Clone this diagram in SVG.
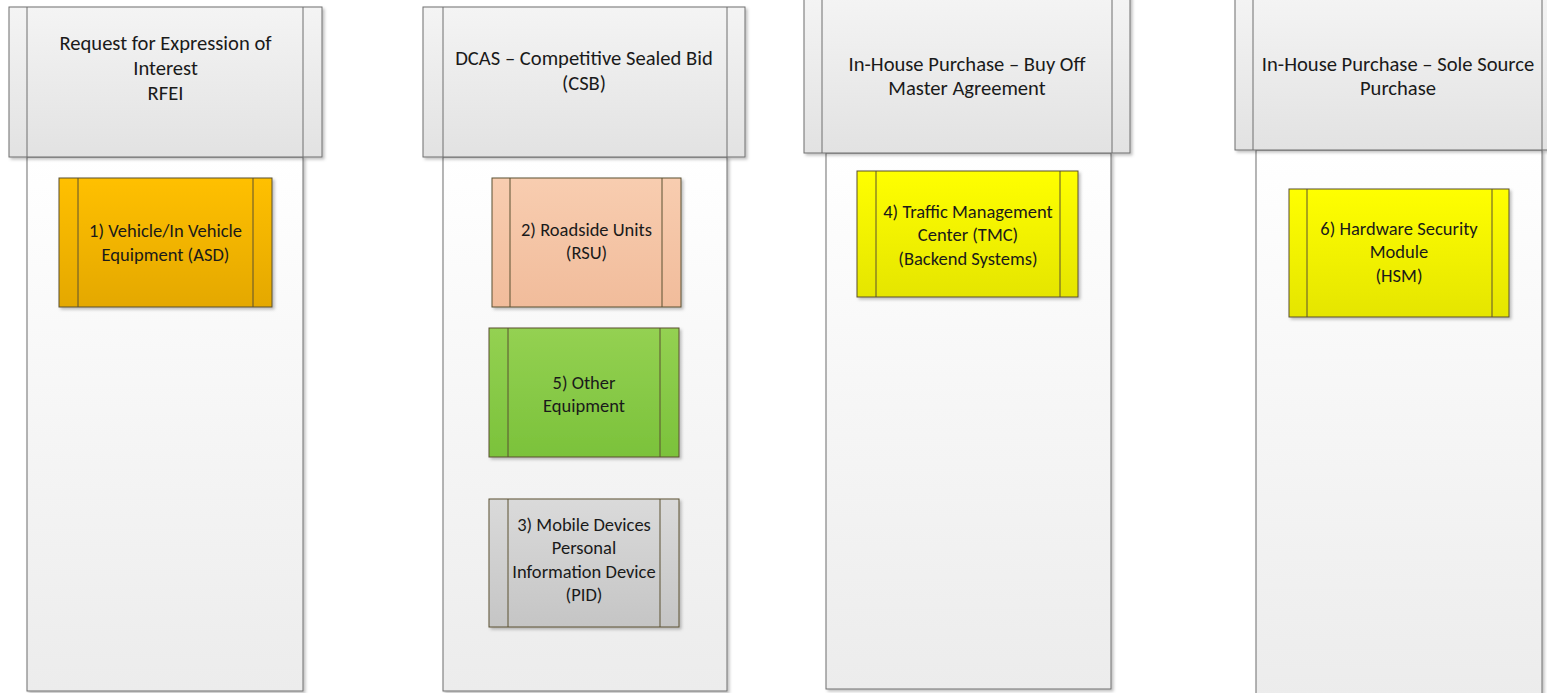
<svg xmlns="http://www.w3.org/2000/svg" width="1547" height="693" viewBox="0 0 1547 693">
  <defs>
    <linearGradient id="gHead" x1="0" y1="0" x2="0" y2="1">
      <stop offset="0" stop-color="#f4f4f4"/>
      <stop offset="1" stop-color="#e2e2e2"/>
    </linearGradient>
    <linearGradient id="gBody" x1="0" y1="0" x2="0" y2="1">
      <stop offset="0" stop-color="#ffffff"/>
      <stop offset="1" stop-color="#ececec"/>
    </linearGradient>
    <linearGradient id="gOrange" x1="0" y1="0" x2="0" y2="1">
      <stop offset="0" stop-color="#ffc000"/>
      <stop offset="1" stop-color="#e4a800"/>
    </linearGradient>
    <linearGradient id="gPeach" x1="0" y1="0" x2="0" y2="1">
      <stop offset="0" stop-color="#f8cdb0"/>
      <stop offset="1" stop-color="#f1bc9b"/>
    </linearGradient>
    <linearGradient id="gGreen" x1="0" y1="0" x2="0" y2="1">
      <stop offset="0" stop-color="#94d152"/>
      <stop offset="1" stop-color="#7bc23b"/>
    </linearGradient>
    <linearGradient id="gGray" x1="0" y1="0" x2="0" y2="1">
      <stop offset="0" stop-color="#dadada"/>
      <stop offset="1" stop-color="#c5c5c5"/>
    </linearGradient>
    <linearGradient id="gYellow" x1="0" y1="0" x2="0" y2="1">
      <stop offset="0" stop-color="#ffff00"/>
      <stop offset="1" stop-color="#e5e500"/>
    </linearGradient>
    <filter id="shadow" x="-5%" y="-5%" width="115%" height="115%">
      <feDropShadow dx="2" dy="2" stdDeviation="1.5" flood-color="#000" flood-opacity="0.25"/>
    </filter>
  </defs>
  <style>
    .head { fill: url(#gHead); stroke: #6f6f6f; stroke-width: 1; filter: url(#shadow); }
    .body { fill: url(#gBody); stroke: #6f6f6f; stroke-width: 1; filter: url(#shadow); }
    .bar  { stroke: #6f6f6f; stroke-width: 1; }
    .node { stroke: #5a5030; stroke-width: 1; filter: url(#shadow); }
    .nbar { stroke: #5a5030; stroke-width: 1; }
    .ht { font-family: Carlito, "Liberation Sans Narrow", "Liberation Sans", sans-serif; font-size: 20.6px; fill: #1a1a1a; text-anchor: middle; }
    .nt { font-family: Carlito, "Liberation Sans Narrow", "Liberation Sans", sans-serif; font-size: 18.5px; fill: #1a1a1a; text-anchor: middle; }
  </style>

  <rect width="1547" height="693" fill="#ffffff"/>

  <!-- Swimlane 1: RFEI -->
  <g id="lane-rfei">
    <rect class="body" x="27" y="157" width="276" height="534"/>
    <rect class="head" x="9" y="7" width="313" height="150"/>
    <line class="bar" x1="27" y1="7" x2="27" y2="157"/>
    <line class="bar" x1="303" y1="7" x2="303" y2="157"/>
    <text class="ht" x="165.5" y="50">Request for Expression of</text>
    <text class="ht" x="165.5" y="75">Interest</text>
    <text class="ht" x="165.5" y="100">RFEI</text>
  </g>

  <!-- Swimlane 2: DCAS CSB -->
  <g id="lane-csb">
    <rect class="body" x="443" y="157" width="284" height="534"/>
    <rect class="head" x="423" y="7" width="322" height="150"/>
    <line class="bar" x1="443" y1="7" x2="443" y2="157"/>
    <line class="bar" x1="727" y1="7" x2="727" y2="157"/>
    <text class="ht" x="584" y="65">DCAS – Competitive Sealed Bid</text>
    <text class="ht" x="584" y="90">(CSB)</text>
  </g>

  <!-- Swimlane 3: Buy Off Master Agreement -->
  <g id="lane-buyoff">
    <rect class="body" x="826" y="153" width="285" height="536"/>
    <rect class="head" x="804" y="-4" width="326" height="157"/>
    <line class="bar" x1="822" y1="-4" x2="822" y2="153"/>
    <line class="bar" x1="1112" y1="-4" x2="1112" y2="153"/>
    <text class="ht" x="967" y="71">In-House Purchase – Buy Off</text>
    <text class="ht" x="967" y="95">Master Agreement</text>
  </g>

  <!-- Swimlane 4: Sole Source Purchase -->
  <g id="lane-solesource">
    <rect class="body" x="1256" y="150" width="286" height="550"/>
    <rect class="head" x="1235" y="-4" width="326" height="154"/>
    <line class="bar" x1="1253" y1="-4" x2="1253" y2="150"/>
    <line class="bar" x1="1542" y1="-4" x2="1542" y2="150"/>
    <text class="ht" x="1398" y="71">In-House Purchase – Sole Source</text>
    <text class="ht" x="1398" y="95">Purchase</text>
  </g>

  <!-- Equipment nodes -->
  <g id="node-asd">
    <rect class="node" x="59" y="178" width="213" height="129" fill="url(#gOrange)"/>
    <line class="nbar" x1="78" y1="178" x2="78" y2="307"/>
    <line class="nbar" x1="253" y1="178" x2="253" y2="307"/>
    <text class="nt" x="165.5" y="237">1) Vehicle/In Vehicle</text>
    <text class="nt" x="165.5" y="261">Equipment (ASD)</text>
  </g>

  <g id="node-rsu">
    <rect class="node" x="492" y="178" width="189" height="129" fill="url(#gPeach)"/>
    <line class="nbar" x1="510" y1="178" x2="510" y2="307"/>
    <line class="nbar" x1="662" y1="178" x2="662" y2="307"/>
    <text class="nt" x="586.5" y="236">2) Roadside Units</text>
    <text class="nt" x="586.5" y="259">(RSU)</text>
  </g>

  <g id="node-other">
    <rect class="node" x="489" y="328" width="190" height="129" fill="url(#gGreen)"/>
    <line class="nbar" x1="508" y1="328" x2="508" y2="457"/>
    <line class="nbar" x1="660" y1="328" x2="660" y2="457"/>
    <text class="nt" x="584" y="389">5) Other</text>
    <text class="nt" x="584" y="412">Equipment</text>
  </g>

  <g id="node-pid">
    <rect class="node" x="489" y="499" width="190" height="128" fill="url(#gGray)"/>
    <line class="nbar" x1="508" y1="499" x2="508" y2="627"/>
    <line class="nbar" x1="660" y1="499" x2="660" y2="627"/>
    <text class="nt" x="584" y="531">3) Mobile Devices</text>
    <text class="nt" x="584" y="554">Personal</text>
    <text class="nt" x="584" y="578">Information Device</text>
    <text class="nt" x="584" y="601">(PID)</text>
  </g>

  <g id="node-tmc">
    <rect class="node" x="857" y="171" width="221" height="126" fill="url(#gYellow)"/>
    <line class="nbar" x1="876" y1="171" x2="876" y2="297"/>
    <line class="nbar" x1="1060" y1="171" x2="1060" y2="297"/>
    <text class="nt" x="968" y="218">4) Traffic Management</text>
    <text class="nt" x="968" y="241">Center (TMC)</text>
    <text class="nt" x="968" y="265">(Backend Systems)</text>
  </g>

  <g id="node-hsm">
    <rect class="node" x="1289" y="189" width="220" height="128" fill="url(#gYellow)"/>
    <line class="nbar" x1="1307" y1="189" x2="1307" y2="317"/>
    <line class="nbar" x1="1492" y1="189" x2="1492" y2="317"/>
    <text class="nt" x="1399" y="235">6) Hardware Security</text>
    <text class="nt" x="1399" y="258">Module</text>
    <text class="nt" x="1399" y="282">(HSM)</text>
  </g>

  <!-- No links between nodes in this chart -->
  <g id="connectors"/>
</svg>
